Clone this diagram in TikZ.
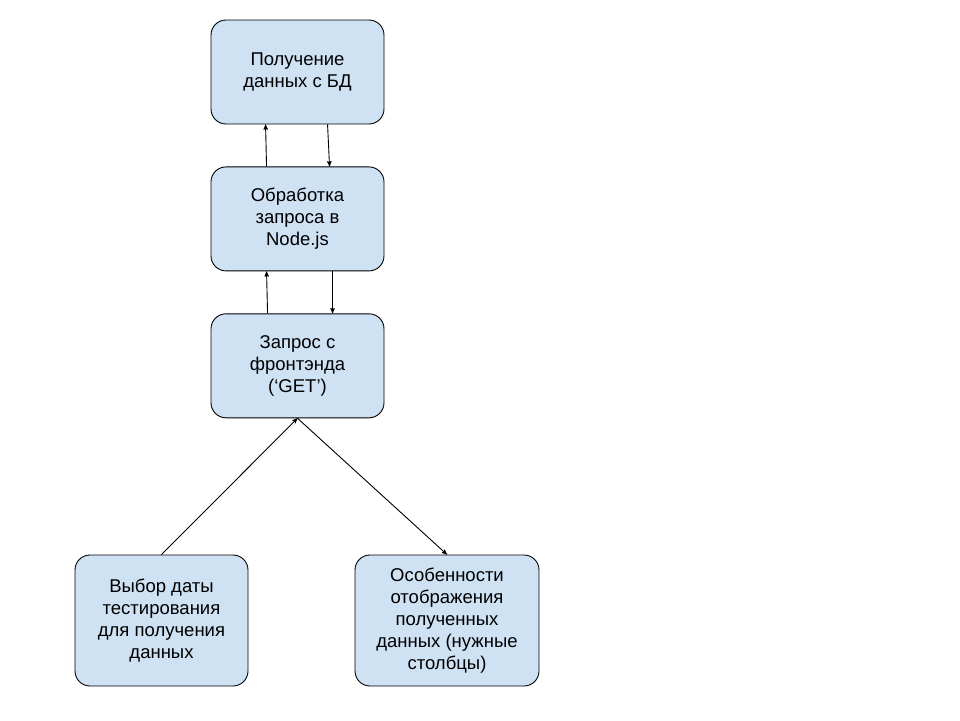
\documentclass[tikz,border=0pt]{standalone}
\usepackage{fontspec}
\setmainfont{Liberation Sans}
\usetikzlibrary{positioning, arrows}
\usetikzlibrary{calc}
\definecolor{boxblue}{HTML}{CFE2F3}
\tikzset{
->, % directed edges
>=stealth', % small filled heads
node distance=42pt, % gap between the stacked boxes
box/.style={draw=black, fill=boxblue, rounded corners=15pt, line width=0.9pt,
  minimum width=173pt, minimum height=104pt, align=center, inner sep=0pt,
  font=\fontsize{18.5}{22}\selectfont},
}
\begin{document}
\begin{tikzpicture}[x=1pt, y=-1pt, line width=0.9pt]
    \path[use as bounding box] (0,0) rectangle (960,720);
    \node[box] (db) at (297.5,72) {Получение\\данных с БД};
    \node[box, below=of db] (node) {Обработка\\запроса в\\Node.js};
    \node[box, below=of node] (req) {Запрос с\\фронтэнда\\(‘GET’)};
    \node[box, minimum height=131pt] (date) at (161.5,620.5) {Выбор даты\\тестирования\\для получения\\данных};
    \node[box, minimum width=184pt, minimum height=131pt] (view) at (447,620.5) {Особенности\\отображения\\полученных\\данных (нужные\\столбцы)};
    \draw ($(node.north west)+(56,0)$) -- ($(db.south west)+(55,0)$);
    \draw ($(db.south west)+(117,0)$) -- ($(node.north west)+(119,0)$);
    \draw ($(req.north west)+(57,0)$) -- ($(node.south west)+(56,0)$);
    \draw ($(node.south west)+(122,0)$) -- ($(req.north west)+(122,0)$);
    \draw (date.north) -- (req.south);
    \draw (req.south) -- (view.north);
  \end{tikzpicture}
\end{document}
